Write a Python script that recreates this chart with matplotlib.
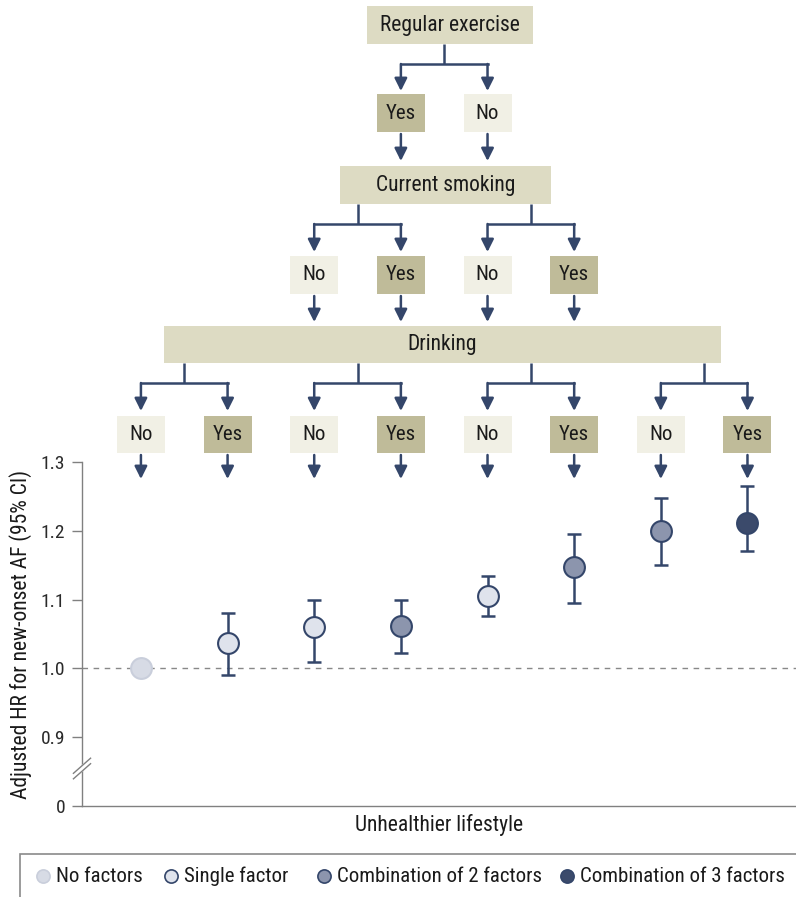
import matplotlib
matplotlib.use("Agg")
import matplotlib.pyplot as plt
from matplotlib import font_manager
from matplotlib.patches import Rectangle, FancyArrowPatch

# ---- data ----
groups = ["none", "single", "single", "two", "single", "two", "two", "three"]
hr = [1.0, 1.037, 1.06, 1.061, 1.105, 1.147, 1.200, 1.212]
ci_low = [1.0, 0.990, 1.010, 1.022, 1.076, 1.095, 1.151, 1.171]
ci_high = [1.0, 1.080, 1.100, 1.100, 1.134, 1.195, 1.248, 1.265]
yticks = [0.8, 0.9, 1.0, 1.1, 1.2, 1.3]
ytick_labels = ["0", "0.9", "1.0", "1.1", "1.2", "1.3"]
group_keys = ["none", "single", "two", "three"]
legend_labels = ["No factors", "Single factor", "Combination of 2 factors", "Combination of 3 factors"]
exercise_opts = ["Yes", "No"]
smoking_opts = ["No", "Yes"]
drinking_opts = ["No", "Yes"]

# ---- style ----
avail = {f.name for f in font_manager.fontManager.ttflist}
font = next((f for f in ["Liberation Sans Narrow", "Roboto Condensed", "Open Sans Condensed", "Lato"] if f in avail), "DejaVu Sans")
plt.rcParams['font.family'] = [font, 'DejaVu Sans']

navy = "#34466a"
fills = {"none": "#d7dbe5", "single": "#dfe3ec", "two": "#8c95ad", "three": "#3b4a6b"}
edges = {"none": "#c9cedb", "single": navy, "two": navy, "three": navy}
head_col = "#dddbc3"
yes_col = "#bfbb99"
no_col = "#f1f0e5"
grey = "#808080"
txt = "#1a1a1a"

W, H = 796, 897
fig = plt.figure(figsize=(W / 100, H / 100), dpi=100)

# ---- main plot ----
ax = fig.add_axes([82 / W, (H - 806) / H, (W - 82) / W, (806 - 462) / H])
xs = list(range(len(hr)))
ax.axhline(1.0, color="#888888", lw=1, ls=(0, (4, 4)), zorder=1)
for i, g in enumerate(groups):
    if ci_high[i] > ci_low[i]:
        ax.errorbar(i, hr[i], yerr=[[hr[i] - ci_low[i]], [ci_high[i] - hr[i]]],
                    fmt="none", ecolor=navy, elinewidth=1.8, capsize=5, capthick=1.8, zorder=2)
    ax.plot(i, hr[i], "o", ms=15, mfc=fills[g], mec=edges[g], mew=1.5, zorder=3)

ax.set_xlim(-0.68, 7.56)
ax.set_ylim(0.8, 1.3)
ax.set_yticks(yticks)
ax.set_yticklabels(ytick_labels, fontsize=14, color="#2a2a2a")
ax.set_xticks([])
ax.tick_params(axis="y", length=7, width=1, color=grey, pad=5)
for s in ["top", "right"]:
    ax.spines[s].set_visible(False)
for s in ["left", "bottom"]:
    ax.spines[s].set_color(grey)
    ax.spines[s].set_linewidth(1)
ax.set_xlabel("Unhealthier lifestyle", fontsize=15.5, color=txt, labelpad=6)
ax.set_ylabel("Adjusted HR for new-onset AF (95% CI)", fontsize=15.5, color=txt, labelpad=6)

# axis break marks
bx, by = 0.0, 0.105
dx, dy = 0.012, 0.022
ax.plot([bx - dx, bx + dx], [by - dy + 0.004, by + dy + 0.004], transform=ax.transAxes,
        color="white", lw=4, clip_on=False, zorder=5)
for off in (-0.004, 0.012):
    ax.plot([bx - dx, bx + dx], [by - dy + off, by + dy + off], transform=ax.transAxes,
            color=grey, lw=1, clip_on=False, zorder=6)

# leaf centres in figure pixels, from the data axes
leaf_x = [ax.transData.transform((i, 1.0))[0] for i in xs]

# ---- decision tree overlay (pixel coords, y down) ----
ov = fig.add_axes([0, 0, 1, 1])
ov.set_xlim(0, W)
ov.set_ylim(H, 0)
ov.axis("off")
ov.patch.set_alpha(0)


def box(cx, cy, w, h, color, text, fs=15):
    ov.add_patch(Rectangle((cx - w / 2, cy - h / 2), w, h, fc=color, ec="none"))
    ov.text(cx, cy, text, ha="center", va="center", fontsize=fs, color=txt)


def arrow(x, y0, y1):
    ov.add_patch(FancyArrowPatch((x, y0), (x, y1), arrowstyle="-|>,head_length=0.5,head_width=0.25",
                                 mutation_scale=15, color=navy, lw=1.8, shrinkA=0, shrinkB=0))


def split(xc, y0, ybar, xa, xb, y1):
    ov.plot([xc, xc], [y0, ybar], color=navy, lw=1.8, solid_capstyle="butt")
    ov.plot([xa, xb], [ybar, ybar], color=navy, lw=1.8, solid_capstyle="projecting")
    arrow(xa, ybar, y1)
    arrow(xb, ybar, y1)


lvl1 = [leaf_x[3], leaf_x[4]]
lvl2 = [leaf_x[2], leaf_x[3], leaf_x[4], leaf_x[5]]
ex_c = (lvl1[0] + lvl1[1]) / 2

box(450, 25, 166, 38, head_col, "Regular exercise", 15.5)
split(ex_c, 44, 64, lvl1[0], lvl1[1], 91)
for x, t in zip(lvl1, exercise_opts):
    box(x, 113.5, 48, 38, yes_col if t == "Yes" else no_col, t)
    arrow(x, 134, 161)

box(445.5, 185, 211, 38, head_col, "Current smoking", 15.5)
for k in range(2):
    xa, xb = lvl2[2 * k], lvl2[2 * k + 1]
    split((xa + xb) / 2, 204, 224, xa, xb, 252)
for k, x in enumerate(lvl2):
    t = smoking_opts[k % 2]
    box(x, 275, 48, 38, yes_col if t == "Yes" else no_col, t)
    arrow(x, 296, 322)

box(442.5, 344.5, 557, 37, head_col, "Drinking", 15.5)
for k in range(4):
    xa, xb = leaf_x[2 * k], leaf_x[2 * k + 1]
    split((xa + xb) / 2, 363, 383, xa, xb, 411)
for k, x in enumerate(leaf_x):
    t = drinking_opts[k % 2]
    box(x, 434.5, 48, 37, yes_col if t == "Yes" else no_col, t)
    arrow(x, 455, 479)

# ---- legend ----
ov.add_patch(Rectangle((20, 854), 800, 60, fc="white", ec="#8a8a8a", lw=1.2, clip_on=False))
leg_x = [43, 171, 324, 567]
for x, k, lab in zip(leg_x, group_keys, legend_labels):
    ov.plot(x, 876, "o", ms=9.5, mfc=fills[k], mec=edges[k], mew=1.2)
    ov.text(x + 13, 876, lab, ha="left", va="center", fontsize=15, color=txt)

fig.savefig("out.png", dpi=100)
